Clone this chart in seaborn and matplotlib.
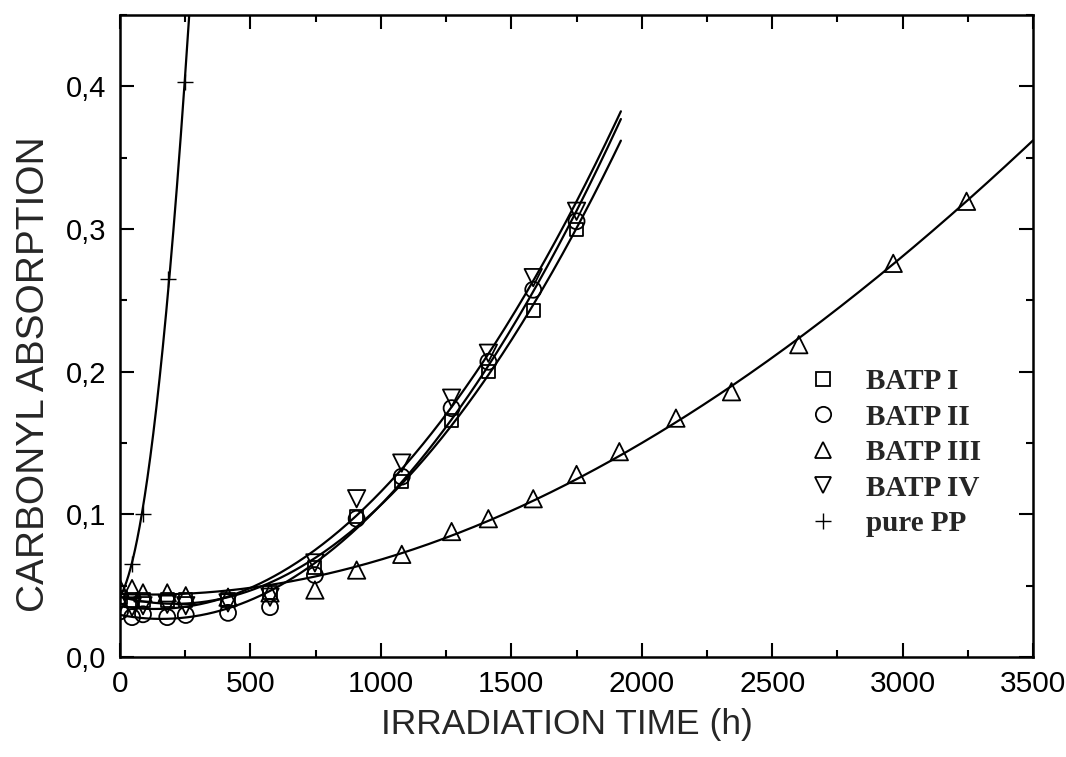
import numpy as np
import pandas as pd
import matplotlib
matplotlib.use("Agg")
import matplotlib.pyplot as plt
import seaborn as sns
from matplotlib.lines import Line2D
from matplotlib.ticker import MultipleLocator, FuncFormatter

# ---------------- data ----------------
t_batp = [0, 46, 88, 181, 252, 414, 575, 747, 907, 1080, 1271, 1412, 1584, 1750]
y_batp1 = [0.042, 0.040, 0.040, 0.040, 0.040, 0.040, 0.045, 0.063, 0.0985, 0.123, 0.166, 0.200, 0.243, 0.300]
y_batp2 = [0.032, 0.028, 0.030, 0.028, 0.0295, 0.031, 0.035, 0.0575, 0.097, 0.1265, 0.1745, 0.207, 0.2575, 0.3055]
y_batp4 = [0.038, 0.035, 0.036, 0.037, 0.036, 0.038, 0.042, 0.066, 0.111, 0.136, 0.1815, 0.213, 0.266, 0.3125]
t_batp3 = [0, 46, 88, 181, 252, 414, 575, 747, 907, 1080, 1271, 1412, 1584, 1750,
           1914, 2131, 2344, 2602, 2964, 3245]
y_batp3 = [0.048, 0.048, 0.045, 0.045, 0.043, 0.042, 0.045, 0.047, 0.061, 0.072, 0.088, 0.097, 0.111, 0.128,
           0.144, 0.1675, 0.186, 0.219, 0.276, 0.3195]
t_pp = [0, 46, 88, 185, 249]
y_pp = [0.045, 0.065, 0.100, 0.265, 0.403]

series_names = ["BATP I", "BATP II", "BATP III", "BATP IV", "pure PP"]
series_markers = ["s", "o", "^", "v", "+"]
fit_end = [1920, 1920, 3500, 1920, 280]
fit_deg = [2, 2, 3, 2, 2]

x_ticks = [0, 500, 1000, 1500, 2000, 2500, 3000, 3500]
y_ticks = [0.0, 0.1, 0.2, 0.3, 0.4]

# ---------------- style ----------------
sns.set_style("ticks")
plt.rcParams["font.family"] = ["Liberation Sans", "DejaVu Sans"]

fig = plt.figure(figsize=(10.66, 7.57), dpi=100)
ax = fig.add_axes([0.1126, 0.132, 0.8565, 0.848])

xs = [t_batp, t_batp, t_batp3, t_batp, t_pp]
ys = [y_batp1, y_batp2, y_batp3, y_batp4, y_pp]
sizes = [9.5, 11.5, 12.5, 12.5, 12]

for name, mk, x, y, xe, deg, ms in zip(series_names, series_markers, xs, ys, fit_end, fit_deg, sizes):
    x = np.asarray(x, float)
    y = np.asarray(y, float)
    if xe > 3000:
        w = np.where(x > 2900, 8.0, np.where(x > 1800, 3.0, 1.0))
    else:
        w = np.ones_like(x)
    coef = np.polyfit(x, y, deg, w=w)
    xf = np.linspace(0, xe, 300)
    yf = np.polyval(coef, xf)
    sns.lineplot(x=xf, y=yf, ax=ax, color="black", linewidth=1.6, sort=False, estimator=None)
    if mk == "+":
        sns.scatterplot(x=x, y=y, ax=ax, marker="+", s=ms ** 2, color="black", linewidth=1.0, zorder=3)
    else:
        sns.scatterplot(x=x, y=y, ax=ax, marker=mk, s=ms ** 2, facecolor="none",
                        edgecolor="black", linewidth=1.3, zorder=3)

ax.set_xlim(0, 3500)
ax.set_ylim(0, 0.45)
ax.set_xticks(x_ticks)
ax.set_yticks(y_ticks)
ax.xaxis.set_minor_locator(MultipleLocator(250))
ax.yaxis.set_minor_locator(MultipleLocator(0.05))
ax.yaxis.set_major_formatter(FuncFormatter(lambda v, p: f"{v:.1f}".replace(".", ",")))
ax.xaxis.set_major_formatter(FuncFormatter(lambda v, p: f"{int(v)}"))

ax.tick_params(which="both", direction="in", top=True, right=True, width=1.5, colors="black")
ax.tick_params(which="major", length=10)
ax.tick_params(which="minor", length=5)
ax.tick_params(axis="x", which="major", pad=9, labelsize=21.5)
ax.tick_params(axis="y", which="major", pad=10, labelsize=21)
for s in ax.spines.values():
    s.set_linewidth(1.8)
    s.set_color("black")

ax.set_xlabel("IRRADIATION TIME (h)", fontsize=25.5)
ax.xaxis.set_label_coords(0.489, -0.079)
ax.set_ylabel("CARBONYL ABSORPTION", fontsize=28)
ax.yaxis.set_label_coords(-0.075, 0.44)

handles = []
for mk, ms in zip(series_markers, [10, 11, 12, 12, 12]):
    if mk == "+":
        h = Line2D([], [], marker="+", linestyle="none", color="black", markersize=ms, markeredgewidth=1.0)
    else:
        h = Line2D([], [], marker=mk, linestyle="none", markerfacecolor="none",
                   markeredgecolor="black", markersize=ms, markeredgewidth=1.3)
    handles.append(h)
ax.legend(handles, series_names, loc="upper left", bbox_to_anchor=(0.7536, 0.450),
          frameon=False, borderpad=0, borderaxespad=0, handlelength=1.0, handletextpad=0.97,
          labelspacing=0.29, prop={"family": ["Liberation Serif", "DejaVu Serif"], "weight": "bold", "size": 21})

fig.savefig("out.png", dpi=100)
